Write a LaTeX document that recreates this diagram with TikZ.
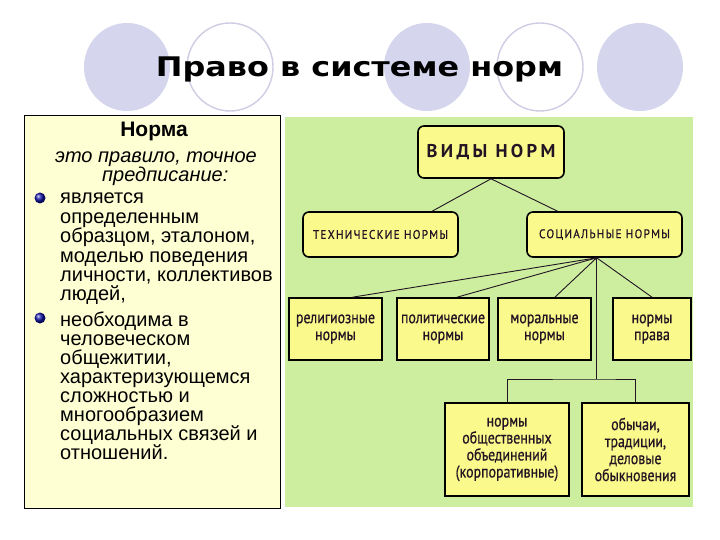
\documentclass[tikz,border=0pt]{standalone}
\usepackage{fontspec}
\setmainfont{Liberation Sans}
\newfontfamily\dfont[FakeStretch=0.82,FakeBold=0.6]{PT Sans}
\newfontfamily\dfontsp[LetterSpace=10,FakeStretch=0.9,FakeBold=0.7]{PT Sans}
\newfontfamily\dfontbig[LetterSpace=18]{PT Sans}
\newfontfamily\tfont{DejaVu Sans}
\usetikzlibrary{calc}
\definecolor{lav}{RGB}{213,213,238}
\definecolor{lavline}{RGB}{205,205,228}
\definecolor{panel}{RGB}{204,238,158}
\definecolor{leftbg}{RGB}{255,255,212}
\definecolor{boxbg}{RGB}{250,250,140}
\definecolor{ink}{RGB}{35,20,35}
\definecolor{bul}{RGB}{20,20,170}
\begin{document}
\begin{tikzpicture}[x=1pt,y=-1pt,
  disc/.style={fill=lav, draw=none},
  ring/.style={draw=lavline, line width=1.4pt, fill=white},
  box/.style={draw=black, line width=1.6pt, fill=boxbg, text=ink,
    font=\dfont\fontsize{17}{17}\selectfont, align=center, inner sep=1pt},
  rbox/.style={box, rounded corners=6pt, font=\dfontsp\fontsize{12.5}{14}\selectfont},
  conn/.style={draw=ink, line width=0.9pt},
  txt/.style={anchor=base west, inner sep=0pt, font=\fontsize{20}{20}\selectfont},
  itxt/.style={txt, font=\itshape\fontsize{20}{20}\selectfont},
  bullet/.style={circle, minimum size=11pt, inner sep=0pt, ball color=bul, draw=none}
]
\useasboundingbox (0,0) rectangle (720,540);
\fill[white] (0,0) rectangle (720,540);
% header circles
\fill[disc] (127,67) circle[x radius=43, y radius=44];
\draw[ring] (230,67) circle[x radius=43, y radius=44];
\fill[disc] (427,67) circle[x radius=43, y radius=44];
\draw[ring] (540,67) circle[x radius=43, y radius=44];
\fill[disc] (640,67) circle[x radius=43, y radius=44];
\node[anchor=base, inner sep=0pt, font=\tfont\bfseries\fontsize{27}{27}\selectfont] (title) at (359.5,77)
  {\scalebox{1.18}[1]{Право в системе норм}};
% left panel
\node[draw=black, line width=0.8pt, fill=leftbg, minimum width=256pt, minimum height=393pt,
      inner sep=0pt] (leftpanel) at (152,311.5) {};
\node[anchor=base, inner sep=0pt, font=\bfseries\fontsize{21}{21}\selectfont] (norma) at (154,137) {Норма};
\node[itxt] (def1) at (55,162.5) {это правило, точное};
\node[itxt] (def2) at (102,181.5) {предписание:};
\node[bullet] (b1) at (40,198) {};
\node[bullet] (b2) at (40,318) {};
\foreach \yy/\tt [count=\i] in {204/является, 223.5/определенным, 243/{образцом, эталоном,},
   262/моделью поведения, 281/{личности, коллективов}, 300/{людей,},
   326/необходима в, 345/человеческом, 364/{общежитии,}, 383/характеризующемся,
   402/сложностью и, 421/многообразием, 440/социальных связей и, 459/отношений.}
  \node[txt] (l\i) at (60,\yy) {\tt};
% right panel
\node[fill=panel, minimum width=408pt, minimum height=390pt, inner sep=0pt] (rightpanel) at (489,312) {};
% diagram boxes
\node[rbox, minimum width=146pt, minimum height=52pt, font=\dfontbig\bfseries\fontsize{18.5}{20}\selectfont] (vid) at (491,152) {ВИДЫ НОРМ};
\node[rbox, minimum width=155pt, minimum height=45pt] (tech) at (380.5,234.5) {ТЕХНИЧЕСКИЕ НОРМЫ};
\node[rbox, minimum width=155pt, minimum height=45pt] (soc) at (604.5,234.5) {СОЦИАЛЬНЫЕ НОРМЫ};
\node[box, minimum width=93pt, minimum height=62pt] (rel) at (335.5,329) {религиозные\\нормы};
\node[box, minimum width=92pt, minimum height=62pt] (pol) at (443,329) {политические\\нормы};
\node[box, minimum width=93pt, minimum height=62pt] (mor) at (544.5,329) {моральные\\нормы};
\node[box, minimum width=78pt, minimum height=62pt] (prava) at (652,329) {нормы\\права};
\node[box, minimum width=124pt, minimum height=93pt] (obsch) at (507,449.5) {нормы\\общественных\\объединений\\(корпоративные)};
\node[box, minimum width=107pt, minimum height=93pt] (obych) at (635.5,449.5) {обычаи,\\традиции,\\деловые\\обыкновения};
% connectors
\coordinate (sb) at ($(soc.south west)!0.45!(soc.south east)$);
\coordinate (hub) at (sb |- 0,379);
\draw[conn] (vid.south) -- ($(tech.north west)!0.83!(tech.north east)$);
\draw[conn] (vid.south) -- ($(soc.north west)!0.2!(soc.north east)$);
\draw[conn] (sb) -- ($(rel.north west)!0.68!(rel.north east)$);
\draw[conn] (sb) -- ($(pol.north west)!0.65!(pol.north east)$);
\draw[conn] (sb) -- ($(mor.north west)!0.61!(mor.north east)$);
\draw[conn] (sb) -- (prava.north);
\draw[conn] (sb) -- (hub);
\draw[conn] (obsch.north) |- (hub) -| (obych.north);
\end{tikzpicture}
\end{document}
